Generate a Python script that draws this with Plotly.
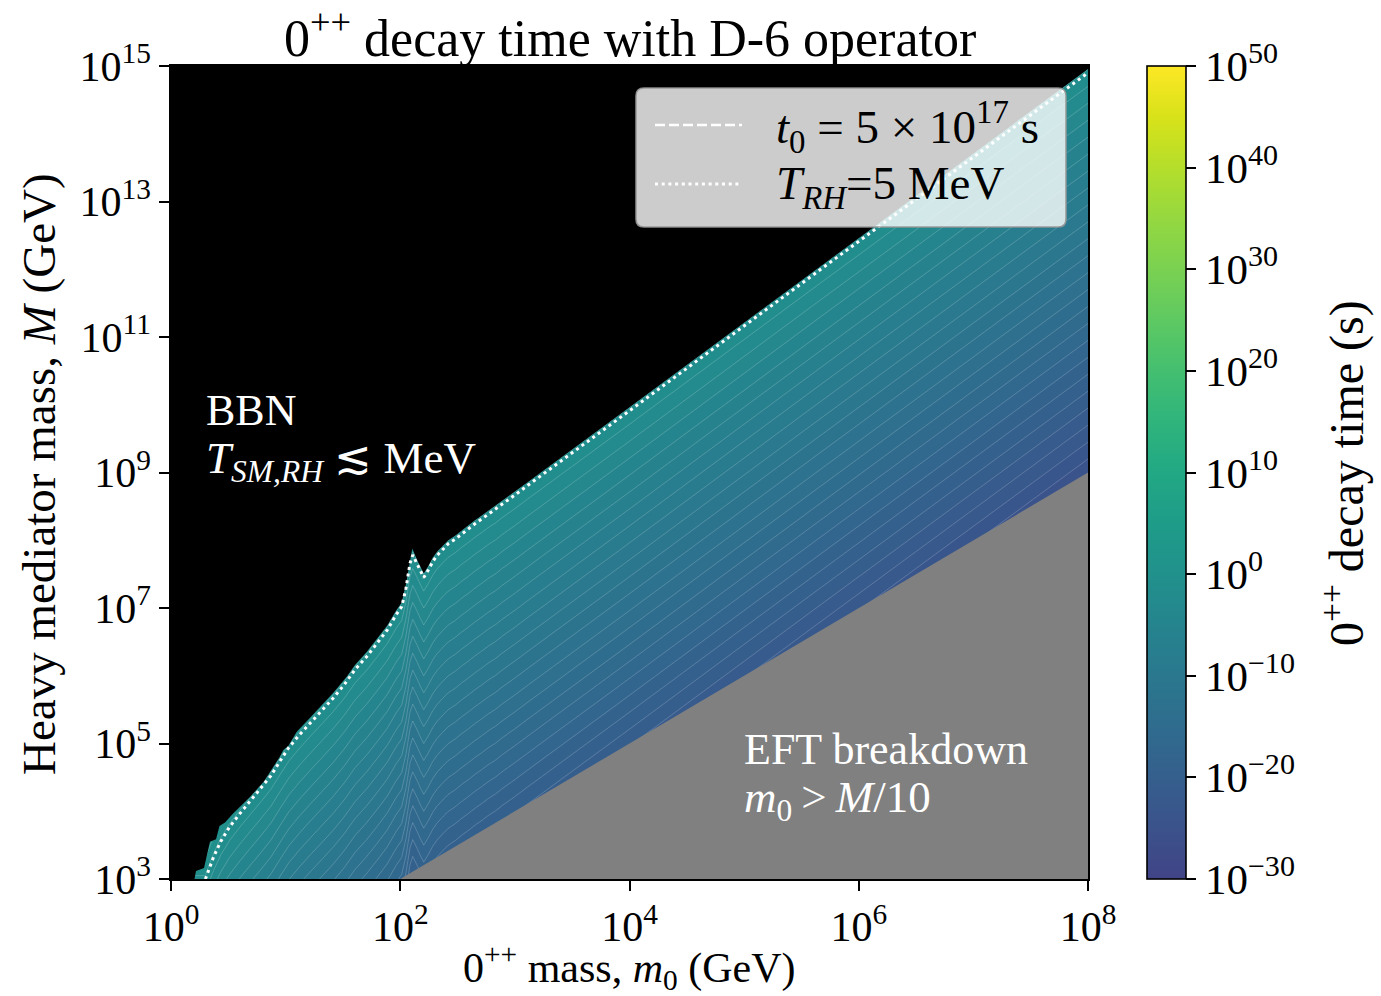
import numpy as np
import plotly.graph_objects as go

# ---------------------------------------------------------------------------
# Data (log10 units: m0 and M in GeV, decay time in seconds)
# ---------------------------------------------------------------------------

# Contour where the 0++ lifetime equals the decay time for T_RH = 5 MeV
trh_log_m0 = [0.300, 0.320, 0.373, 0.434, 0.509, 0.596, 0.689, 0.781, 0.872, 0.948,
              1.027, 1.119, 1.219, 1.317, 1.416, 1.512, 1.605, 1.707, 1.795, 1.887,
              1.963, 2.013, 2.050, 2.085, 2.109, 2.149, 2.178, 2.205, 2.245, 2.283,
              2.321, 2.370, 2.419, 2.478, 2.536, 2.594, 2.652, 2.711, 2.768, 2.833,
              2.888, 3.001, 3.117, 3.941, 5.633, 7.974, 8.000]
trh_log_M = [3.000, 3.099, 3.332, 3.553, 3.763, 3.955, 4.147, 4.333, 4.525, 4.731,
             4.938, 5.125, 5.313, 5.490, 5.672, 5.870, 6.090, 6.281, 6.469, 6.675,
             6.897, 7.019, 7.291, 7.660, 7.782, 7.645, 7.536, 7.450, 7.561, 7.683,
             7.775, 7.866, 7.949, 8.014, 8.095, 8.166, 8.244, 8.314, 8.387, 8.457,
             8.532, 8.668, 8.815, 9.838, 11.955, 14.867, 14.900]

# Edge of the computed region (above it: excluded by BBN)
bbn_log_m0 = [0.205, 0.218, 0.288, 0.318, 0.340, 0.393, 0.423, 0.471, 0.544, 0.689,
              0.809, 0.948, 0.980, 1.023, 1.097, 1.219, 1.317, 1.416, 1.533, 1.605,
              1.707, 1.795, 1.887, 1.963, 2.013, 2.050, 2.085, 2.105, 2.149, 2.178,
              2.205, 2.245, 2.283, 2.321, 2.370, 2.419, 2.478, 2.536, 2.594, 2.652,
              2.711, 2.768, 2.833, 2.888, 3.001, 3.117, 3.941, 5.633, 8.000]
bbn_log_M = [3.000, 3.118, 3.162, 3.384, 3.551, 3.586, 3.782, 3.834, 3.970, 4.210,
             4.436, 4.800, 4.904, 4.963, 5.174, 5.390, 5.570, 5.750, 5.986, 6.160,
             6.350, 6.540, 6.740, 6.960, 7.080, 7.350, 7.720, 7.880, 7.700, 7.590,
             7.510, 7.620, 7.740, 7.830, 7.920, 8.000, 8.065, 8.145, 8.215, 8.295,
             8.365, 8.437, 8.507, 8.582, 8.718, 8.865, 9.888, 12.005, 14.956]

LOG_TAU_RH = -1.2          # lifetime on the T_RH = 5 MeV contour (s)
M_POWER = 4                # tau ~ M^4 at fixed m0 for the dimension-6 operator
T0_SECONDS = 5e17          # age-of-universe line
EFT_RATIO = 10             # EFT valid for m0 < M / 10

# EFT breakdown boundary M = 10 m0
eft_log_m0 = [2.0, 8.0]
eft_log_M = [m + np.log10(EFT_RATIO) for m in eft_log_m0]

# Colour bar
cbar_vals = [-30, -20, -10, 0, 10, 20, 30, 40, 50]
cbar_text = ["10<sup>%s</sup>" % (str(v).replace("-", "\u2212")) for v in cbar_vals]

x_tick_vals = [0, 2, 4, 6, 8]
y_tick_vals = [3, 5, 7, 9, 11, 13, 15]

# viridis, upper part (colour map normalised over 1e-50 .. 1e50 s)
viridis_hi = ["#414487", "#3b528b", "#355f8d", "#2f6c8e", "#2a788e", "#25848e",
              "#21918c", "#1e9c89", "#22a884", "#2fb47c", "#44bf70", "#5ec962",
              "#7ad151", "#95d840", "#b5de2b", "#d8e219", "#fde725"]
cscale = [[i / (len(viridis_hi) - 1), c] for i, c in enumerate(viridis_hi)]

FONT = "Liberation Serif"

# ---------------------------------------------------------------------------
# Lifetime field on a (log m0, log M) grid
# ---------------------------------------------------------------------------
grid_m0 = np.array([0.0] + trh_log_m0)
grid_Mb = np.array([trh_log_M[0]] + trh_log_M)
grid_M = np.arange(2.0, 17.0, 1.0)
log_tau = LOG_TAU_RH + M_POWER * (grid_M[:, None] - grid_Mb[None, :])

fig = go.Figure()

fig.add_trace(go.Contour(
    x=grid_m0, y=grid_M, z=log_tau,
    colorscale=cscale, zmin=-30, zmax=50,
    autocontour=False,
    contours=dict(start=-30, end=50, size=1, coloring="fill", showlines=True),
    line=dict(color="rgba(255,255,255,0.32)", width=0.6, smoothing=0),
    showscale=False, hoverinfo="skip",
))

# t0 contour (lies inside the BBN-excluded region)
t0_log_M = [m + (np.log10(T0_SECONDS) - LOG_TAU_RH) / M_POWER for m in trh_log_M]
fig.add_trace(go.Scatter(
    x=trh_log_m0, y=t0_log_M, mode="lines",
    line=dict(color="white", width=2.5, dash="10px,4px"),
    showlegend=False, hoverinfo="skip",
))

# BBN-excluded region (black)
mask_x = [-0.2, bbn_log_m0[0]] + bbn_log_m0 + [8.2, 8.2, -0.2]
mask_y = [2.8, 2.8] + bbn_log_M + [15.1, 15.5, 15.5]
fig.add_trace(go.Scatter(
    x=mask_x, y=mask_y, mode="lines", fill="toself",
    fillcolor="black", line=dict(width=0, color="black"),
    showlegend=False, hoverinfo="skip",
))

# EFT breakdown region (grey)
eft_x = [eft_log_m0[0], eft_log_m0[1], 8.2, 8.2, eft_log_m0[0]]
eft_y = [eft_log_M[0], eft_log_M[1], eft_log_M[1] + 0.2, 2.8, 2.8]
fig.add_trace(go.Scatter(
    x=eft_x, y=eft_y, mode="lines", fill="toself",
    fillcolor="#808080", line=dict(width=0, color="#808080"),
    showlegend=False, hoverinfo="skip",
))

# T_RH = 5 MeV line
fig.add_trace(go.Scatter(
    x=trh_log_m0, y=trh_log_M, mode="lines",
    line=dict(color="white", width=3.0, dash="3px,3.7px"),
    showlegend=False, hoverinfo="skip",
))

# colour bar carrier
fig.add_trace(go.Scatter(
    x=[None], y=[None], mode="markers",
    marker=dict(color=[0], colorscale=cscale, cmin=-30, cmax=50, showscale=True,
                colorbar=dict(
                    x=1.0643, xanchor="left", y=0.5, yanchor="middle",
                    len=1, lenmode="fraction", thickness=39, thicknessmode="pixels",
                    xpad=0, ypad=0, outlinewidth=1.6, outlinecolor="black",
                    ticks="outside", ticklen=10, tickwidth=1.8, tickcolor="black",
                    tickvals=cbar_vals, ticktext=cbar_text,
                    tickfont=dict(family=FONT, size=43, color="black"),
                )),
    showlegend=False, hoverinfo="skip",
))

axis_common = dict(
    showgrid=False, zeroline=False, showline=True, linecolor="black", linewidth=1.5,
    mirror=True, ticks="outside", ticklen=10, tickwidth=1.8, tickcolor="black",
    tickfont=dict(family=FONT, size=42, color="black"),
)
fig.update_xaxes(range=[0, 8], tickvals=x_tick_vals,
                 ticktext=["10<sup>%d</sup>" % v for v in x_tick_vals], **axis_common)
fig.update_yaxes(range=[3, 15], tickvals=y_tick_vals,
                 ticktext=["10<sup>%d</sup>" % v for v in y_tick_vals], **axis_common)

PW, PH, L, T = 917.0, 813.0, 171.0, 66.0


def px(xp):
    return (xp - L) / PW


def py(yp):
    return (T + PH - yp) / PH


def label(text, xp, yp, size, xanchor="left", color="black", angle=0):
    fig.add_annotation(text=text, x=px(xp), y=py(yp), xref="paper", yref="paper",
                       xanchor=xanchor, yanchor="middle", showarrow=False,
                       textangle=angle, borderpad=0,
                       font=dict(family=FONT, size=size, color=color))


label("0<sup>++</sup> decay time with D-6 operator", 630, 34, 52, xanchor="center")
label("0<sup>++</sup> mass, <i>m</i><sub>0</sub> (GeV)", 629, 967, 42, xanchor="center")
label("Heavy mediator mass, <i>M</i> (GeV)", 39, 474, 47, xanchor="center", angle=-90)
label("0<sup>++</sup> decay time (s)", 1343, 473, 48, xanchor="center", angle=-90)

label("BBN", 205, 410, 44, color="white")
label("<i>T</i><sub><i>SM,RH</i></sub> \u2272 MeV", 205, 461, 45, color="white")
label("EFT breakdown", 743, 749, 44, color="white")
label("<i>m</i><sub>0</sub>\u2009>\u2009<i>M</i>/%d" % EFT_RATIO, 743, 800, 45, color="white")

# legend box
bx0, bx1, by0, by1, r = px(636), px(1066), py(227), py(88), 8.0
rx, ry = r / PW, r / PH
box_path = (f"M {bx0 + rx},{by0} L {bx1 - rx},{by0} Q {bx1},{by0} {bx1},{by0 + ry} "
            f"L {bx1},{by1 - ry} Q {bx1},{by1} {bx1 - rx},{by1} "
            f"L {bx0 + rx},{by1} Q {bx0},{by1} {bx0},{by1 - ry} "
            f"L {bx0},{by0 + ry} Q {bx0},{by0} {bx0 + rx},{by0} Z")
fig.add_shape(type="path", path=box_path, xref="paper", yref="paper",
              fillcolor="rgba(255,255,255,0.8)", line=dict(color="rgba(150,150,150,0.9)", width=1.6))
fig.add_shape(type="line", x0=px(655), x1=px(742), y0=py(125), y1=py(125),
              xref="paper", yref="paper", line=dict(color="white", width=2.5, dash="10px,4px"))
fig.add_shape(type="line", x0=px(655), x1=px(742), y0=py(184), y1=py(184),
              xref="paper", yref="paper", line=dict(color="white", width=3.0, dash="3px,3.7px"))
t0_exp = int(np.floor(np.log10(T0_SECONDS)))
t0_mant = T0_SECONDS / 10 ** t0_exp
label("<i>t</i><sub>0</sub> = %g \u00d7 10<sup>%d</sup> s" % (t0_mant, t0_exp), 775, 127, 47)
label("<i>T</i><sub><i>RH</i></sub>=5 MeV", 775, 186, 47)

fig.update_layout(
    width=1381, height=996,
    margin=dict(l=171, r=1381 - 1088, t=66, b=996 - 879, pad=0),
    paper_bgcolor="white", plot_bgcolor="black",
    showlegend=False,
)

fig.write_html("out.html")
